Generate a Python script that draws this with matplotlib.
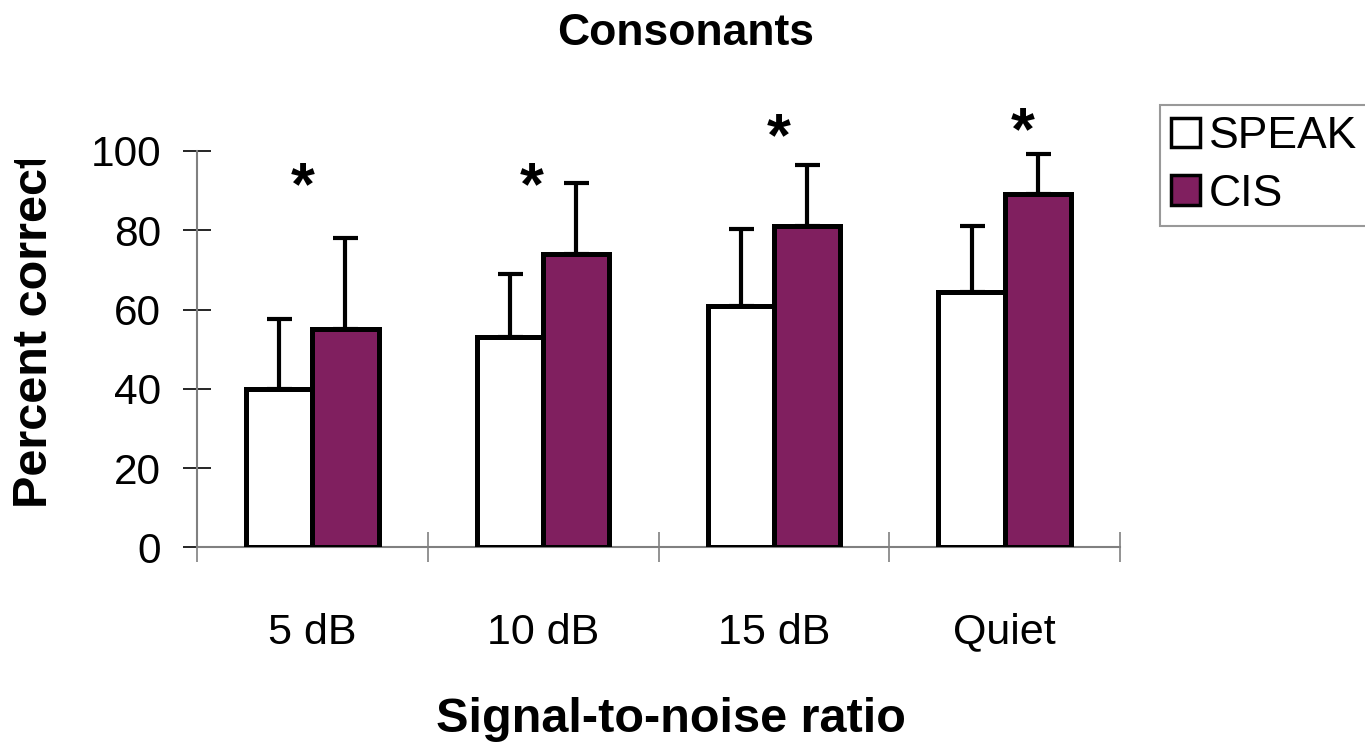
import matplotlib
matplotlib.use("Agg")
import numpy as np
import matplotlib.pyplot as plt
from matplotlib.patches import Patch
from matplotlib.transforms import Bbox, TransformedBbox

plt.rcParams['font.family'] = ['Liberation Sans', 'DejaVu Sans']

categories = ["5 dB", "10 dB", "15 dB", "Quiet"]
speak = [40, 53, 61, 64.5]
speak_err = [17.7, 16, 19.3, 16.6]
cis = [55, 74, 81, 89.2]
cis_err = [23, 18, 15.4, 10]
# significance stars: x offset from group centre, baseline height
star_dx = [-0.04, -0.05, 0.02, 0.08]
star_y = [86.5, 86.5, 99.0, 100.5]

purple = "#801f5f"
grey = "#808080"

fig = plt.figure(figsize=(13.65, 7.45), dpi=100)
ax = fig.add_axes([197 / 1365, 197.7 / 745, 923 / 1365, 396.3 / 745])

x = np.arange(len(categories))
w = 0.287
ax.bar(x - w / 2, speak, w, color="white", edgecolor="black", linewidth=3.6, zorder=3)
ax.bar(x + w / 2, cis, w, color=purple, edgecolor="black", linewidth=3.6, zorder=3)
ax.errorbar(x - w / 2, speak, yerr=[np.zeros(4), speak_err], fmt="none", ecolor="black",
            elinewidth=3, capsize=9, capthick=3, zorder=2)
ax.errorbar(x + w / 2, cis, yerr=[np.zeros(4), cis_err], fmt="none", ecolor="black",
            elinewidth=3, capsize=9, capthick=3, zorder=2)

for i in range(len(categories)):
    ax.text(x[i] + star_dx[i], star_y[i], "*", fontsize=44, fontweight="bold",
            ha="center", va="baseline", clip_on=False)

ax.set_xlim(-0.5, 3.5)
ax.set_ylim(0, 100)
ax.set_yticks([0, 20, 40, 60, 80, 100])
ax.set_xticks(np.arange(-0.5, 4.0, 1.0))
ax.set_xticklabels([])
ax.set_xticks(x, minor=True)
ax.set_xticklabels(categories, minor=True)
ax.tick_params(axis="y", direction="inout", length=20, width=1.2, color="black", labelsize=30.5, pad=16)
ax.tick_params(axis="x", which="major", direction="inout", length=21, width=1.2, color=grey)
ax.tick_params(axis="x", which="minor", length=0, labelsize=31, pad=47)

for s in ["top", "right"]:
    ax.spines[s].set_visible(False)
for s in ["left", "bottom"]:
    ax.spines[s].set_color(grey)
    ax.spines[s].set_linewidth(1.5)

fig.text(686 / 1365, (745 - 45) / 745, "Consonants", fontsize=32, fontweight="bold", ha="center", va="baseline")
fig.text(671 / 1365, (745 - 732) / 745, "Signal-to-noise ratio", fontsize=35, fontweight="bold",
         ha="center", va="baseline")
yl = fig.text(35 / 1365, (745 - 508) / 745, "Percent correct", fontsize=35, fontweight="bold",
              rotation=90, ha="center", va="bottom")
yl.set_clip_box(TransformedBbox(Bbox([[0, 0], [1, (745 - 160) / 745]]), fig.transFigure))
yl.set_clip_on(True)

handles = [Patch(facecolor="white", edgecolor="black", linewidth=2.5, label="SPEAK"),
           Patch(facecolor=purple, edgecolor="black", linewidth=2.5, label="CIS")]
leg = fig.legend(handles=handles, loc="lower left", bbox_to_anchor=(1160 / 1365, (745 - 226) / 745),
                 fontsize=32, frameon=True, fancybox=False, handlelength=0.65, handleheight=0.65,
                 handletextpad=0.2, labelspacing=0.38, borderpad=0.25, borderaxespad=0)
leg.get_frame().set_edgecolor(grey)
leg.get_frame().set_linewidth(1.5)

fig.savefig("out.png", dpi=100)
